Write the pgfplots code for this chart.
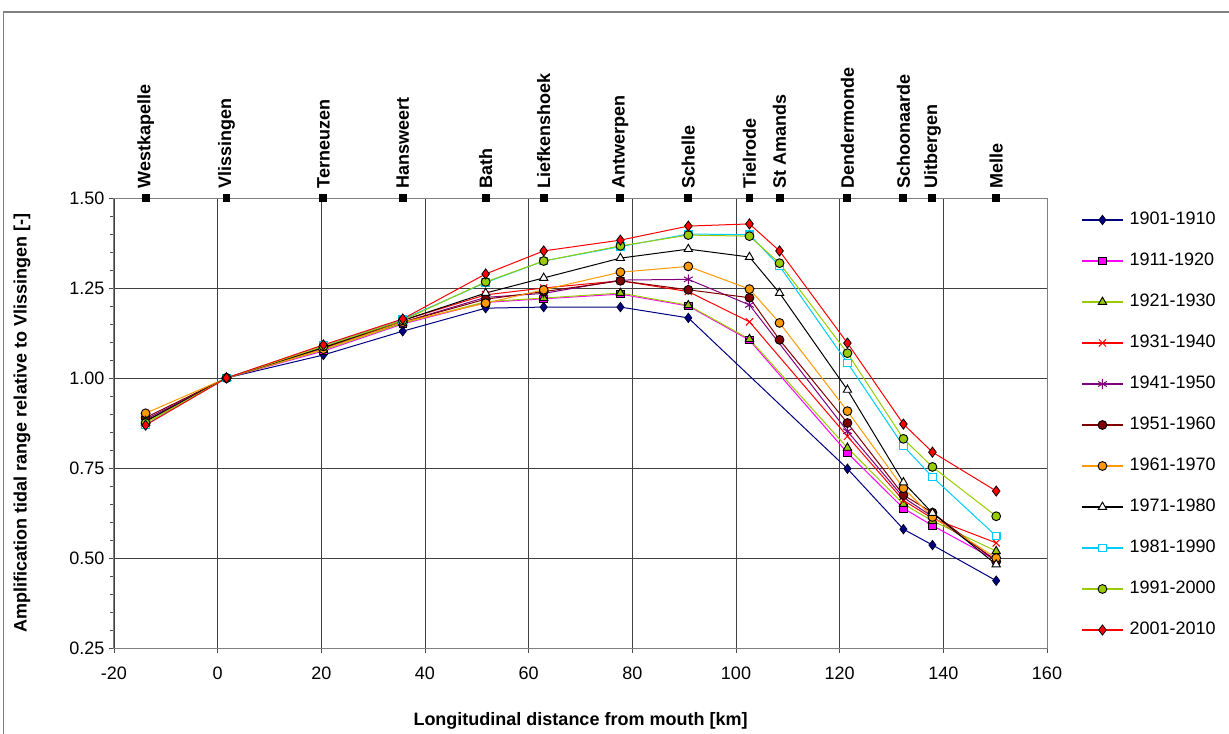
\documentclass[border=0pt]{standalone}
\usepackage{pgfplots}
\pgfplotsset{compat=1.18}
\usepackage{fontspec}
\setmainfont{Liberation Sans}
\definecolor{cNavy}{HTML}{000080}
\definecolor{cMag}{HTML}{FF00FF}
\definecolor{cYG}{HTML}{99CC00}
\definecolor{cRed}{HTML}{FF0000}
\definecolor{cPur}{HTML}{800080}
\definecolor{cMar}{HTML}{800000}
\definecolor{cOra}{HTML}{FF9900}
\definecolor{cCya}{HTML}{00CCFF}
\definecolor{cGrid}{HTML}{404040}
\begin{document}
\begin{tikzpicture}
\path[use as bounding box] (-85.5pt,-63.75pt) rectangle (836.25pt,486pt);
\draw[gray, line width=0.9pt] (-82.9pt,-70pt) -- (-82.9pt,477pt) -- (840pt,477pt);
\begin{axis}[
  at={(0,0)}, anchor=south west,
  scale only axis, width=699.75pt, height=337.5pt,
  xmin=-20, xmax=160, ymin=0.25, ymax=1.5,
  xtick={-20,0,...,160},
  ytick={0.25,0.5,0.75,1.0,1.25,1.5},
  minor y tick num=4,
  grid=major,
  major grid style={cGrid, line width=0.6pt},
  axis line style={gray, line width=0.75pt},
  tick align=outside,
  major tick length=3.75pt, minor tick length=3pt,
  tick style={gray!60!black, line width=0.6pt},
  xtick pos=bottom, ytick pos=left,
  clip=false,
  font=\fontsize{13.5}{16}\selectfont,
  /pgf/number format/assume math mode=true,
  yticklabel style={/pgf/number format/fixed, /pgf/number format/fixed zerofill, /pgf/number format/precision=2},
  xticklabel style={/pgf/number format/fixed, yshift=-7pt},
  xlabel={\bfseries Longitudinal distance from mouth [km]},
  ylabel={\bfseries Amplification tidal range relative to Vlissingen [-]},
  every axis x label/.style={at={(axis description cs:0.5,-0.162)}, anchor=center},
  every axis y label/.style={at={(axis description cs:-0.0986,0.5)}, anchor=center, rotate=90},
  legend style={at={(1.0365,0.971)}, anchor=north west, draw=none, fill=none, inner sep=0pt,
    font=\fontsize{13.5}{16}\selectfont,
    nodes={inner sep=0pt, text height=10pt, text depth=3pt},
    row sep=17.75pt,
    /tikz/every odd column/.append style={column sep=4.5pt}},
  legend cell align=left,
  legend image code/.code={\draw[line width=0.9pt, mark repeat=2,mark phase=2,#1] plot coordinates {(0pt,0pt)(15.4pt,0pt)(30.75pt,0pt)};},
  every axis plot/.append style={line width=0.75pt},
]
% 1901-1910
\addplot[cNavy, line width=0.75pt, mark=diamond*, mark size=3.6pt, mark options={fill=cNavy, draw=black!70!cNavy, line width=0.5pt}] coordinates {
(-13.9,0.880)(1.7,1.000)(20.4,1.064)(35.7,1.130)(51.7,1.194)(62.9,1.197)(77.7,1.197)(90.8,1.167)(121.5,0.748)(132.3,0.580)(137.9,0.536)(150.2,0.437)};
\addlegendentry{1901-1910}
% 1911-1920
\addplot[cMag, line width=0.75pt, mark=square*, mark size=2.8pt, mark options={fill=cMag, draw=black, line width=0.7pt}] coordinates {
(-13.9,0.880)(1.7,1.000)(20.4,1.075)(35.7,1.150)(51.7,1.210)(62.9,1.220)(77.7,1.233)(90.8,1.200)(102.6,1.105)(121.5,0.792)(132.3,0.638)(137.9,0.590)(150.2,0.494)};
\addlegendentry{1911-1920}
% 1921-1930
\addplot[cYG, line width=0.75pt, mark=triangle*, mark size=3.6pt, mark options={fill=cYG, draw=black, line width=0.7pt}] coordinates {
(-13.9,0.875)(1.7,1.000)(20.4,1.078)(35.7,1.152)(51.7,1.212)(62.9,1.222)(77.7,1.236)(90.8,1.202)(102.6,1.108)(121.5,0.806)(132.3,0.650)(137.9,0.603)(150.2,0.519)};
\addlegendentry{1921-1930}
% 1931-1940
\addplot[cRed, line width=0.75pt, mark=x, mark size=3.8pt, mark options={draw=cRed, line width=0.75pt}] coordinates {
(-13.9,0.880)(1.7,1.000)(20.4,1.085)(35.7,1.160)(51.7,1.231)(62.9,1.250)(77.7,1.270)(90.8,1.240)(102.6,1.156)(121.5,0.838)(132.3,0.660)(137.9,0.610)(150.2,0.542)};
\addlegendentry{1931-1940}
% 1941-1950
\addplot[cPur, line width=0.75pt, mark=asterisk, mark size=3.8pt, mark options={draw=cPur, line width=0.75pt}] coordinates {
(-13.9,0.885)(1.7,1.000)(20.4,1.082)(35.7,1.155)(51.7,1.224)(62.9,1.235)(77.7,1.272)(90.8,1.274)(102.6,1.203)(121.5,0.852)(132.3,0.668)(137.9,0.615)(150.2,0.494)};
\addlegendentry{1941-1950}
% 1951-1960
\addplot[cMar, line width=0.75pt, mark=*, mark size=3.3pt, mark options={fill=cMar, draw=black, line width=0.7pt}] coordinates {
(-13.9,0.890)(1.7,1.000)(20.4,1.085)(35.7,1.155)(51.7,1.219)(62.9,1.240)(77.7,1.270)(90.8,1.245)(102.6,1.223)(108.4,1.106)(121.5,0.875)(132.3,0.675)(137.9,0.626)(150.2,0.490)};
\addlegendentry{1951-1960}
% 1961-1970
\addplot[cOra, line width=0.75pt, mark=*, mark size=3.3pt, mark options={fill=cOra, draw=black, line width=0.7pt}] coordinates {
(-13.9,0.902)(1.7,1.000)(20.4,1.080)(35.7,1.155)(51.7,1.208)(62.9,1.245)(77.7,1.294)(90.8,1.310)(102.6,1.247)(108.4,1.153)(121.5,0.908)(132.3,0.694)(137.9,0.614)(150.2,0.500)};
\addlegendentry{1961-1970}
% 1971-1980
\addplot[black, line width=0.75pt, mark=triangle*, mark size=3.6pt, mark options={fill=white, draw=black, line width=0.7pt}] coordinates {
(-13.9,0.880)(1.7,1.000)(20.4,1.085)(35.7,1.160)(51.7,1.236)(62.9,1.278)(77.7,1.333)(90.8,1.358)(102.6,1.336)(108.4,1.236)(121.5,0.967)(132.3,0.710)(137.9,0.625)(150.2,0.482)};
\addlegendentry{1971-1980}
% 1981-1990
\addplot[cCya, line width=0.75pt, mark=square*, mark size=2.8pt, mark options={fill=white, draw=cCya, line width=0.9pt}] coordinates {
(-13.9,0.870)(1.7,1.000)(20.4,1.090)(35.7,1.163)(51.7,1.265)(62.9,1.325)(77.7,1.365)(90.8,1.400)(102.6,1.398)(108.4,1.311)(121.5,1.042)(132.3,0.811)(137.9,0.725)(150.2,0.561)};
\addlegendentry{1981-1990}
% 1991-2000
\addplot[cYG, line width=0.75pt, mark=*, mark size=3.3pt, mark options={fill=cYG, draw=black, line width=0.7pt}] coordinates {
(-13.9,0.875)(1.7,1.000)(20.4,1.088)(35.7,1.160)(51.7,1.267)(62.9,1.325)(77.7,1.367)(90.8,1.397)(102.6,1.394)(108.4,1.319)(121.5,1.069)(132.3,0.831)(137.9,0.753)(150.2,0.616)};
\addlegendentry{1991-2000}
% 2001-2010
\addplot[cRed, line width=0.75pt, mark=diamond*, mark size=3.8pt, mark options={fill=cRed, draw=black, line width=0.6pt}] coordinates {
(-13.9,0.869)(1.7,1.000)(20.4,1.092)(35.7,1.164)(51.7,1.289)(62.9,1.353)(77.7,1.383)(90.8,1.422)(102.6,1.428)(108.4,1.353)(121.5,1.097)(132.3,0.872)(137.9,0.794)(150.2,0.686)};
\addlegendentry{2001-2010}
% stations
\addplot[only marks, mark=square*, mark size=2.6pt, black, forget plot,
  nodes near coords, point meta=explicit symbolic,
  every node near coord/.style={rotate=90, anchor=west, xshift=7pt, font=\fontsize{13.5}{16}\selectfont\bfseries, inner sep=0pt}]
  coordinates {
(-13.9,1.5)[Westkapelle](1.7,1.5)[Vlissingen](20.4,1.5)[Terneuzen](35.7,1.5)[Hansweert](51.7,1.5)[Bath](62.9,1.5)[Liefkenshoek](77.7,1.5)[Antwerpen](90.8,1.5)[Schelle](102.6,1.5)[Tielrode](108.4,1.5)[St Amands](121.5,1.5)[Dendermonde](132.3,1.5)[Schoonaarde](137.9,1.5)[Uitbergen](150.2,1.5)[Melle]};
\end{axis}
\end{tikzpicture}
\end{document}
